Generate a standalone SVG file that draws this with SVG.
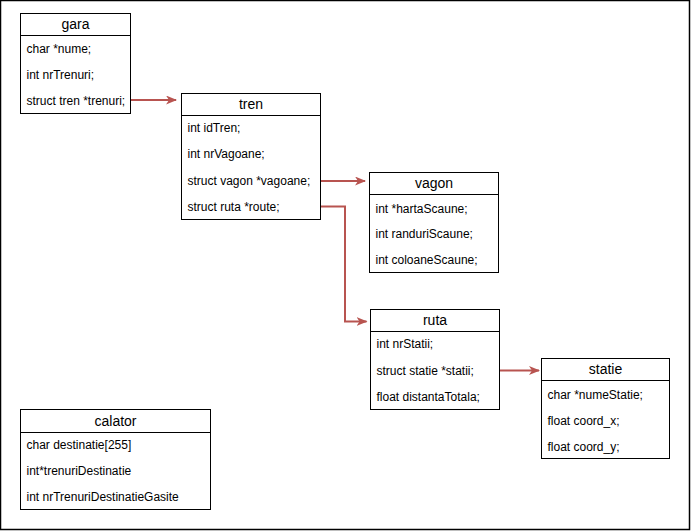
<svg xmlns="http://www.w3.org/2000/svg" width="691" height="531" viewBox="0 0 691 531">
  <style>
    .box { fill: #ffffff; stroke: #000000; stroke-width: 1; }
    .sep { stroke: #000000; stroke-width: 1; }
    .title { font-family: "Liberation Sans", Arial, sans-serif; font-size: 14px; font-weight: normal; fill: #000000; text-anchor: middle; }
    .field { font-family: "Liberation Sans", Arial, sans-serif; font-size: 12px; fill: #000000; }
    .link { fill: none; stroke: #b85450; stroke-width: 2; marker-end: url(#arrow); }
  </style>
  <defs>
    <marker id="arrow" viewBox="0 0 11 9" refX="10" refY="4.5" markerWidth="11" markerHeight="9" orient="auto" markerUnits="userSpaceOnUse">
      <path d="M0,0 L11,4.5 L0,9 L3,4.5 Z" fill="#b85450"/>
    </marker>
  </defs>

  <rect x="0" y="0" width="691" height="531" fill="#ffffff"/>
  <rect x="0.5" y="0.5" width="689" height="529" fill="none" stroke="#000000" stroke-width="1.5"/>

  <g id="connectors">
    <path class="link" d="M130.5,100 L176,100"/>
    <path class="link" d="M320.5,181 L365,181"/>
    <path class="link" d="M320.5,206.5 L345,206.5 L345,321.5 L366.5,321.5"/>
    <path class="link" d="M499.5,370.5 L539,370.5"/>
  </g>

  <g id="gara">
    <rect class="box" x="20.5" y="13.5" width="110" height="100"/>
    <line class="sep" x1="20.5" y1="35.5" x2="130.5" y2="35.5"/>
    <text class="title" x="75.5" y="29">gara</text>
    <text class="field" x="26.5" y="53">char *nume;</text>
    <text class="field" x="26.5" y="79">int nrTrenuri;</text>
    <text class="field" x="26.5" y="105">struct tren *trenuri;</text>
  </g>

  <g id="tren">
    <rect class="box" x="181.5" y="93.5" width="139" height="126"/>
    <line class="sep" x1="181.5" y1="115.5" x2="320.5" y2="115.5"/>
    <text class="title" x="251" y="109">tren</text>
    <text class="field" x="187.5" y="132">int idTren;</text>
    <text class="field" x="187.5" y="158">int nrVagoane;</text>
    <text class="field" x="187.5" y="185">struct vagon *vagoane;</text>
    <text class="field" x="187.5" y="211">struct ruta *route;</text>
  </g>

  <g id="vagon">
    <rect class="box" x="369.5" y="172.5" width="129" height="100"/>
    <line class="sep" x1="369.5" y1="194.5" x2="498.5" y2="194.5"/>
    <text class="title" x="434" y="188">vagon</text>
    <text class="field" x="375.5" y="213">int *hartaScaune;</text>
    <text class="field" x="375.5" y="238">int randuriScaune;</text>
    <text class="field" x="375.5" y="264">int coloaneScaune;</text>
  </g>

  <g id="ruta">
    <rect class="box" x="370.5" y="309.5" width="129" height="100"/>
    <line class="sep" x1="370.5" y1="331.5" x2="499.5" y2="331.5"/>
    <text class="title" x="435" y="325">ruta</text>
    <text class="field" x="376.5" y="348">int nrStatii;</text>
    <text class="field" x="376.5" y="374.5">struct statie *statii;</text>
    <text class="field" x="376.5" y="400.5">float distantaTotala;</text>
  </g>

  <g id="statie">
    <rect class="box" x="541.5" y="358.5" width="128" height="100"/>
    <line class="sep" x1="541.5" y1="380.5" x2="669.5" y2="380.5"/>
    <text class="title" x="605.5" y="374">statie</text>
    <text class="field" x="547.5" y="399">char *numeStatie;</text>
    <text class="field" x="547.5" y="424.5">float coord_x;</text>
    <text class="field" x="547.5" y="450.5">float coord_y;</text>
  </g>

  <g id="calator">
    <rect class="box" x="20.5" y="409.5" width="190" height="100"/>
    <line class="sep" x1="20.5" y1="432.5" x2="210.5" y2="432.5"/>
    <text class="title" x="115.5" y="425.5">calator</text>
    <text class="field" x="26.5" y="449">char destinatie[255]</text>
    <text class="field" x="26.5" y="475">int*trenuriDestinatie</text>
    <text class="field" x="26.5" y="501">int nrTrenuriDestinatieGasite</text>
  </g>
</svg>
